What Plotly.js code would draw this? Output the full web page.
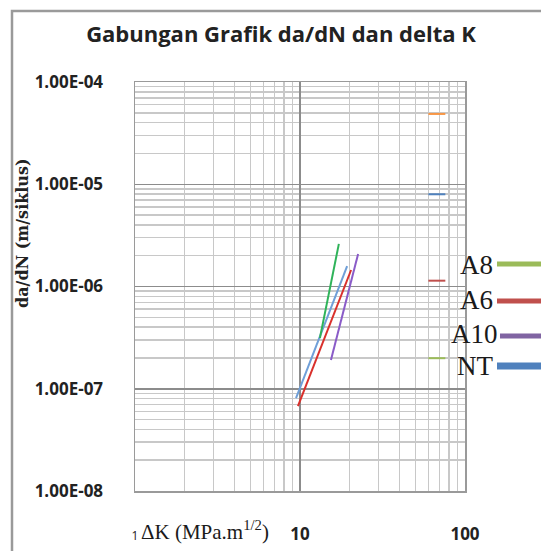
<!DOCTYPE html>
<html>
<head>
<meta charset="utf-8">
<script src="https://cdn.plot.ly/plotly-3.0.1.min.js"></script>
<style>html,body{margin:0;padding:0;background:#fff;}#chart{width:541px;height:551px;}</style>
</head>
<body>
<div id="chart"></div>
<script>
// Series: delta K (MPa.m^1/2) and da/dN (m/siklus)
const seriesNames = ['A8', 'A6', 'A10', 'NT'];
const dK_A8 = [13.2, 17.2];
const dadN_A8 = [3.13e-7, 2.61e-6];
const dK_A6 = [9.72, 20.4];
const dadN_A6 = [6.77e-8, 1.45e-6];
const dK_A10 = [15.4, 22.5];
const dadN_A10 = [1.91e-7, 2.08e-6];
const dK_NT = [9.46, 19.3];
const dadN_NT = [8.1e-8, 1.58e-6];

// short marks near right edge
const markK = [60, 76];
const markOrange = [4.87e-5, 4.87e-5];
const markBlue = [7.98e-6, 7.98e-6];
const markRed = [1.14e-6, 1.14e-6];
const markGreen = [1.99e-7, 1.99e-7];

const xTickVals = [1, 10, 100];
const xTickText = ['1', '10', '100'];
const yTickVals = [1e-8, 1e-7, 1e-6, 1e-5, 1e-4];
const yTickText = ['1.00E-08', '1.00E-07', '1.00E-06', '1.00E-05', '1.00E-04'];

const lineColors = {A8: '#2fb35a', A6: '#d9302c', A10: '#8a5cc8', NT: '#6f9fd8'};
const legendColors = {A8: '#9bbb59', A6: '#c0504d', A10: '#8064a2', NT: '#4f81bd'};

function tr(x, y, color, w) {
  return {x: x, y: y, type: 'scatter', mode: 'lines', line: {color: color, width: w}, showlegend: false, hoverinfo: 'skip'};
}

const data = [
  tr(dK_NT, dadN_NT, lineColors.NT, 2),
  tr(dK_A6, dadN_A6, lineColors.A6, 2),
  tr(dK_A8, dadN_A8, lineColors.A8, 2),
  tr(dK_A10, dadN_A10, lineColors.A10, 2),
  tr(markK, markOrange, '#f79646', 2),
  tr(markK, markBlue, '#4f81bd', 2),
  tr(markK, markRed, '#c0504d', 2),
  tr(markK, markGreen, '#9bbb59', 2)
];

// layout geometry (px)
const W = 541, H = 551, L = 135, R = 465, T = 82, B = 491;
const pw = R - L, ph = B - T;
const px = v => (v - L) / pw;
const py = v => (B - v) / ph;

const legendY = [265, 300, 334, 366];
const legendLineY = [264, 301, 336, 366];
const legendLineW = [5, 5, 5, 7];

const annotations = [
  {text: 'ΔK (MPa.m<sup>1/2</sup>)', xref: 'paper', yref: 'paper', x: px(139), y: py(530), xanchor: 'left', yanchor: 'middle', showarrow: false,
   font: {family: 'Liberation Serif', size: 21, color: '#1a1a1a'}},
  {text: '<b>da/dN (m/siklus)</b>', xref: 'paper', yref: 'paper', x: px(22), y: py(233), xanchor: 'center', yanchor: 'middle', textangle: -90, showarrow: false,
   font: {family: 'DejaVu Serif', size: 16, color: '#222'}}
];
const shapes = [
  {type: 'rect', xref: 'paper', yref: 'paper', x0: px(12), x1: px(W + 20), y0: py(H + 20), y1: py(11), line: {color: '#9a9a9a', width: 2.5}, fillcolor: 'rgba(0,0,0,0)'}
];
seriesNames.forEach((n, i) => {
  annotations.push({text: n, xref: 'paper', yref: 'paper', x: px(n === 'A10' ? 500 : 495), y: py(legendY[i]), xanchor: 'right', yanchor: 'middle', showarrow: false,
    font: {family: 'Liberation Serif', size: 27, color: '#1a1a1a'}});
  shapes.push({type: 'line', xref: 'paper', yref: 'paper', x0: px(n === 'A10' ? 500 : 497), x1: px(W + 10), y0: py(legendLineY[i]), y1: py(legendLineY[i]),
    line: {color: legendColors[n], width: legendLineW[i]}});
});

const layout = {
  width: W, height: H,
  margin: {l: L, r: W - R, t: T, b: H - B, pad: 0},
  paper_bgcolor: '#ffffff', plot_bgcolor: '#ffffff',
  showlegend: false,
  title: {text: '<b>Gabungan Grafik da/dN dan delta K</b>', x: 281 / W, xanchor: 'center', y: 1 - 34 / H, yanchor: 'middle',
          font: {family: 'Open Sans', size: 22, color: '#222'}},
  xaxis: {type: 'log', range: [0, 2], tickmode: 'array', tickvals: xTickVals,
          ticktext: xTickText.map(t => t === '1' ? '<span style="font-size:12px">1</span>' : '<b>' + t + '</b>'),
          ticks: '', showgrid: true, gridcolor: '#8c8c8c', gridwidth: 1.5, zeroline: false,
          showline: true, mirror: true, linecolor: '#9a9a9a', linewidth: 1.5,
          ticklabelstandoff: 27, tickfont: {family: 'Open Sans', size: 17, color: '#222'},
          minor: {dtick: 'D1', showgrid: true, gridcolor: '#c8c8c8', gridwidth: 1.5, ticks: ''}},
  yaxis: {type: 'log', range: [-8, -4], tickmode: 'array', tickvals: yTickVals, ticktext: yTickText.map(t => '<b>' + t + '</b>'),
          ticks: '', showgrid: true, gridcolor: '#8c8c8c', gridwidth: 1.5, zeroline: false,
          showline: true, mirror: true, linecolor: '#9a9a9a', linewidth: 1.5,
          ticklabelstandoff: 27, tickfont: {family: 'Open Sans', size: 17, color: '#222'},
          minor: {dtick: 'D1', showgrid: true, gridcolor: '#c8c8c8', gridwidth: 1.5, ticks: ''}},
  annotations: annotations,
  shapes: shapes
};

Plotly.newPlot('chart', data, layout, {displayModeBar: false, staticPlot: true});
</script>
</body>
</html>
